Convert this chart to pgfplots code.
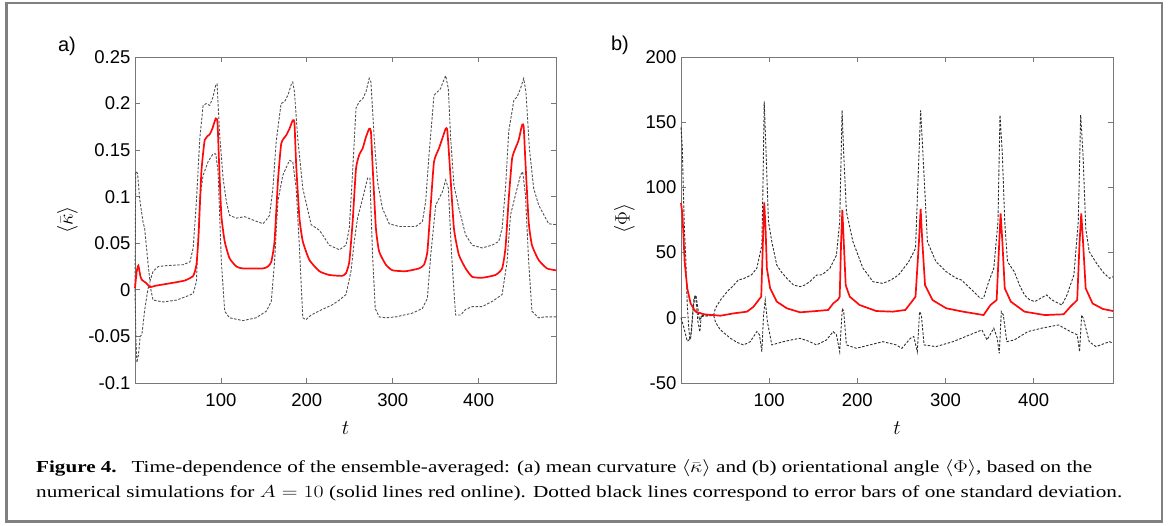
\documentclass[border=0pt]{standalone}
\usepackage{pgfplots}
\pgfplotsset{compat=1.18}
\usepackage{graphicx}
\usepackage{fontspec}
\setmainfont{Liberation Sans}
\newfontfamily\capfont{Liberation Serif}
\definecolor{axgray}{RGB}{120,120,120}
\definecolor{framegray}{RGB}{128,128,128}
\definecolor{dashL}{RGB}{80,80,80}
\definecolor{dashR}{RGB}{45,45,45}
\definecolor{meanred}{RGB}{255,10,10}
\begin{document}
\begin{tikzpicture}[x=1pt,y=1pt]
\path[use as bounding box] (0,0) rectangle (1174,526);
\draw[framegray, line width=2.6pt] (6.5,4.5) rectangle (1162,523);
\pgfplotsset{
  mystyle/.style={
    anchor=south west, scale only axis,
    axis line style={axgray, line width=0.8pt},
    major tick style={axgray, line width=0.8pt},
    major tick length=5pt,
    tick align=inside,
    xmin=0, xmax=490,
    xtick={100,200,300,400},
    xticklabels={100,200,300,400},
    tick label style={font=\fontsize{18.5}{20}\selectfont, black},
    xticklabel style={yshift=-7pt},
    yticklabel style={xshift=-1pt},
    label style={font=\fontsize{20}{24}\selectfont},
    xlabel={$t$},
    clip=false,
  },
}
% ---------------- panel a
\begin{axis}[mystyle, at={(135pt,143pt)}, width=421pt, height=326pt,
  ymin=-0.1, ymax=0.25,
  ytick={-0.1,-0.05,0,0.05,0.1,0.15,0.2,0.25},
  yticklabels={-0.1,-0.05,0,0.05,0.1,0.15,0.2,0.25},
  xlabel style={at={(axis description cs:0.5,-0.138)}, anchor=center},
  ylabel={$\langle\bar{\kappa}\rangle$},
  ylabel style={at={(axis description cs:-0.1603,0.5)}, anchor=center}]
\addplot[dashL, line width=0.9pt, dash pattern=on 2.5pt off 1.6pt] coordinates {
(0,0) (0.8,0.127) (3,0.125) (5.4,0.098) (9.3,0.073) (11.2,0.066) (15,0.030) (17.4,0.009)
(21,0.020) (27,0.025) (36.7,0.026) (56,0.027) (64,0.030) (67.7,0.045) (71.5,0.095)
(75.4,0.1625) (79.3,0.198) (83,0.2) (87,0.198) (90.8,0.207) (94,0.22) (95.5,0.221)
(98.6,0.166) (102.5,0.12) (106.3,0.095) (110,0.080) (118,0.077) (127.6,0.0786)
(137.3,0.075) (149,0.071) (152.7,0.075) (156.6,0.080) (160.5,0.109) (164.3,0.159)
(170,0.2) (174,0.202) (178,0.209) (182,0.221) (183.6,0.223) (185.6,0.2125) (189.4,0.1625)
(195.3,0.109) (205,0.070) (214.6,0.064) (218.4,0.059) (226,0.048) (237.8,0.043)
(245.6,0.048) (249.4,0.066) (253.3,0.127) (257.2,0.195) (261,0.202) (265,0.205)
(268.8,0.2125) (272.6,0.227) (274.6,0.223) (278.4,0.1625) (282.3,0.116) (288,0.0875)
(295.8,0.071) (307.4,0.068) (326.7,0.068) (334.5,0.073) (338.3,0.095) (342.2,0.145)
(348,0.209) (351.9,0.2125) (355.7,0.216) (358.4,0.223) (361.6,0.23) (364.7,0.216)
(367.4,0.1625) (371.2,0.1125) (377,0.0875) (384.8,0.059) (392.5,0.048) (404,0.045)
(415.7,0.048) (423.4,0.052) (427.3,0.066) (431.2,0.109) (435,0.170) (441,0.204)
(444.7,0.207) (448.6,0.216) (452.4,0.227) (455,0.2125) (459,0.152) (464,0.109)
(469.8,0.091) (481.4,0.071) (490,0.070)
};
\addplot[dashL, line width=0.9pt, dash pattern=on 2.5pt off 1.6pt] coordinates {
(0,0) (1,-0.05) (2.2,-0.078) (4,-0.07) (6,-0.05) (8,-0.048) (11.5,-0.020) (15.3,0.002)
(17.4,0.005) (21,-0.011) (32.8,-0.013) (48.3,-0.011) (60,-0.007) (67.7,-0.004)
(71.5,0.009) (75.4,0.098) (79.3,0.123) (85,0.1375) (90.8,0.146) (94,0.146) (96.7,0.127)
(100.5,0.030) (104.4,-0.023) (110,-0.030) (125.6,-0.033) (141,-0.030) (152.7,-0.023)
(158.6,-0.0125) (162.4,0.030) (166.3,0.095) (172,0.123) (179.8,0.139) (183.6,0.1375)
(187.6,0.109) (191.4,0.045) (195.3,-0.030) (199,-0.032) (205,-0.027) (218,-0.021)
(229.8,-0.016) (237.8,-0.011) (245.6,-0.005) (251.4,0.020) (255.2,0.052) (259,0.077)
(265,0.098) (270.7,0.120) (273.4,0.120) (276.5,0.0375) (279.6,-0.020) (284.2,-0.029)
(292,-0.030) (303.6,-0.029) (322.9,-0.025) (334.5,-0.020) (340.3,-0.009) (344.2,0.0375)
(350,0.091) (357.7,0.105) (361.6,0.118) (364.7,0.109) (368.5,0.0375) (373.1,-0.027)
(379,-0.027) (384.8,-0.021) (392.5,-0.018) (404,-0.018) (415.7,-0.0125) (427.3,-0.005)
(433,0.030) (437,0.080) (442.8,0.102) (448.6,0.123) (451.2,0.127) (454.4,0.102)
(458.2,0.030) (462,-0.023) (469.8,-0.030) (477.6,-0.029) (490,-0.029)
};
\addplot[meanred, line width=1.7pt, smooth, tension=0.3] coordinates {
(0,0.002) (2,0.02) (3.9,0.026) (6,0.016) (7.7,0.011) (13.5,0.007) (17.4,0.003) (25,0.0046)
(40.6,0.007) (58,0.010) (67.7,0.015) (71.5,0.027) (74,0.059) (77.3,0.127) (81.2,0.161)
(87,0.167) (90,0.173) (94,0.184) (96,0.18) (97.8,0.1375) (100.5,0.080) (104.4,0.052)
(110,0.034) (118,0.025) (125.6,0.023) (149,0.023) (154.6,0.025) (158.6,0.030)
(162.4,0.052) (166.3,0.116) (170.2,0.157) (176,0.166) (179.8,0.173) (183.6,0.182)
(185.6,0.179) (187.6,0.134) (191.4,0.077) (195.3,0.052) (203,0.032) (214.6,0.020)
(226,0.016) (241,0.015) (245.6,0.018) (249.4,0.030) (253.3,0.073) (257.2,0.130)
(261,0.145) (265,0.152) (268.8,0.164) (272.6,0.173) (274.6,0.170) (276.5,0.134)
(280.4,0.066) (284.2,0.041) (292,0.027) (299.7,0.021) (315,0.020) (330.6,0.023)
(336.4,0.027) (340.3,0.041) (344.2,0.091) (348,0.1375) (353.8,0.152) (357.7,0.1625)
(361.6,0.173) (363.5,0.171) (366.6,0.130) (371.2,0.066) (377,0.0375) (384.8,0.023)
(392.5,0.014) (404,0.013) (419.6,0.016) (427.3,0.023) (431.2,0.045) (435,0.098)
(438.9,0.141) (442.8,0.152) (446.6,0.161) (450.5,0.177) (452.4,0.175) (454.4,0.1375)
(458.2,0.073) (462,0.048) (469.8,0.032) (479.5,0.023) (490,0.021)
};
\node[font=\fontsize{20}{24}\selectfont] at (axis description cs:-0.1615,1.0337) {a)};
\end{axis}
% ---------------- panel b
\begin{axis}[mystyle, at={(681pt,143pt)}, width=432pt, height=326pt,
  ymin=-50, ymax=200,
  ytick={-50,0,50,100,150,200},
  yticklabels={-50,0,50,100,150,200},
  xlabel style={at={(axis description cs:0.5,-0.138)}, anchor=center},
  ylabel={$\langle\Phi\rangle$},
  ylabel style={at={(axis description cs:-0.1308,0.505)}, anchor=center}]
\addplot[dashR, line width=0.9pt, dash pattern=on 2.5pt off 1.6pt] coordinates {
(0,146) (1.5,130) (2.6,99) (4,65) (5.3,48) (7.1,10) (8.5,-5) (10,-17) (12,-10) (14,8)
(15.5,15) (17,17) (19,8) (21,-2) (23,1) (30,1.5) (37,2) (39,7.3) (44.7,13.6) (52.3,20)
(59.8,25) (65,29) (71,30) (80,33) (86,38) (91.7,55.8) (92.9,99) (94.4,166) (95.9,137.6)
(99.2,73.7) (103,58.4) (108.6,40.5) (114,35) (120,30.3) (127.4,25.2) (135,23.9)
(140,25) (146.2,27.7) (153.8,32.8) (160,33) (168.8,37.9) (176.3,48) (180,73.7)
(182.7,159) (184.6,125) (187.6,81.4) (195,58.4) (206.4,38) (212,33) (217.7,27.7)
(229,26.4) (238,29) (246.7,32.8) (258.3,43) (266,53.3) (269.9,125) (271.8,159)
(273.7,135) (279.5,58.4) (289.2,43) (300.8,35.4) (306,33) (312.4,30.3) (318,29)
(324,25.2) (332,20) (339.4,15) (343.2,15) (349,27.7) (354.8,38) (359.5,73.7)
(361.8,155.5) (364.5,125) (367.2,73.7) (370.3,43) (378,35.4) (384,25) (389.6,17.5)
(395,14) (401.2,12.4) (408,15) (414.7,17.5) (420,14) (424.3,12.4) (432,9.8)
(437.8,17.5) (445.6,32.8) (450.6,73.7) (453.3,155.5) (456,125) (459.1,68.6) (463,50.7)
(472.6,40.5) (480,34) (486,30.3) (490,31.5)
};
\addplot[dashR, line width=0.9pt, dash pattern=on 2.5pt off 1.6pt] coordinates {
(0,0) (3.4,-8) (7.1,-18) (10.9,-16) (12.8,0) (14.7,15) (16.5,17.5) (19.2,-3) (21.4,-10.8)
(23,2.1) (26,1.6) (37.2,1.6) (39,-3) (41,-5.5) (44.7,-9.3) (56,-15.7) (64,-19)
(71,-20.8) (78.6,-18.3) (86,-10.6) (89,-13) (91.7,-26) (93.6,2.1) (95.5,13.6) (98,-3)
(103,-20.8) (116,-18.3) (125,-17) (135,-15.7) (145,-18) (153.8,-20.8) (165,-17)
(172.6,-10.6) (176.3,-13) (180,-26) (183,7.3) (184.6,4.7) (187.6,-20.8) (198.9,-23.4)
(214,-20.8) (229,-18.3) (244,-20.8) (250.5,-23.4) (260.2,-15.7) (264,-14.4) (268,-26)
(270.6,4.7) (272.6,2.1) (275.7,-20.8) (289.2,-22.1) (308.5,-18.3) (327.8,-13)
(341.3,-9.3) (347.1,-17) (354.8,-8) (358.7,-15.7) (361,-27.3) (363.3,4.7) (365.6,2.1)
(369.5,-18.3) (378,-17) (393.4,-10.6) (408.9,-8) (428.2,-5.5) (441.7,-10.6) (449.4,-13)
(452.1,-26) (454.4,2.1) (456.4,-0.4) (463,-18.3) (470.7,-22.1) (486,-18.3) (490,-19.5)
};
\addplot[meanred, line width=1.7pt] coordinates {
(0,88) (1.5,80) (2.6,66) (4.1,43) (7.1,22.6) (10.9,11) (16.5,4.7) (26,2.7) (44.7,1.6)
(59.8,3.4) (74.8,4.7) (82.3,8.5) (88,13.6) (91,16.2) (92.9,58.4) (94.4,88.5) (95.9,68.6)
(97.4,38) (101.1,22.6) (108.6,12.4) (120,7.3) (135,4.2) (153.8,5.2) (167,6) (172.6,11)
(178.2,14) (180,16.2) (181.6,58.4) (183,82.7) (184.6,58.4) (186.8,25) (191.4,16.2)
(202.6,9.8) (221.4,5.2) (240,4.7) (254.4,6) (260.2,11) (266,16.2) (269.9,58.4)
(271.8,83.5) (273.7,58.4) (276.8,25) (285.3,13.6) (300.8,7.3) (320,4.7) (343.2,2.1)
(351,9.8) (358,13.6) (361,58.4) (362.5,80) (364.5,58.4) (367.2,22.6) (374.1,12.4)
(389.6,4.7) (412.7,2.1) (434,2.7) (441.7,8.5) (449.4,13.6) (452.1,58.4) (454,80)
(456,58.4) (459,22.6) (466.8,11) (478.4,6.8) (490,5.2)
};
\node[font=\fontsize{20}{24}\selectfont] at (axis description cs:-0.1412,1.037) {b)};
\end{axis}
% ---------------- caption
\node[anchor=base west, inner sep=0pt] at (36,53) {\resizebox{1056pt}{\height}{\capfont\fontsize{16.8}{20}\selectfont\textbf{Figure 4.}\hspace{0.7em}Time-dependence of the ensemble-averaged: (a) mean curvature $\langle\bar{\kappa}\rangle$ and (b) orientational angle $\langle\Phi\rangle$, based on the}};
\node[anchor=base west, inner sep=0pt] at (36,28) {\resizebox{1086pt}{\height}{\capfont\fontsize{16.8}{20}\selectfont numerical simulations for $A=10$ (solid lines red online). Dotted black lines correspond to error bars of one standard deviation.}};
\end{tikzpicture}
\end{document}
